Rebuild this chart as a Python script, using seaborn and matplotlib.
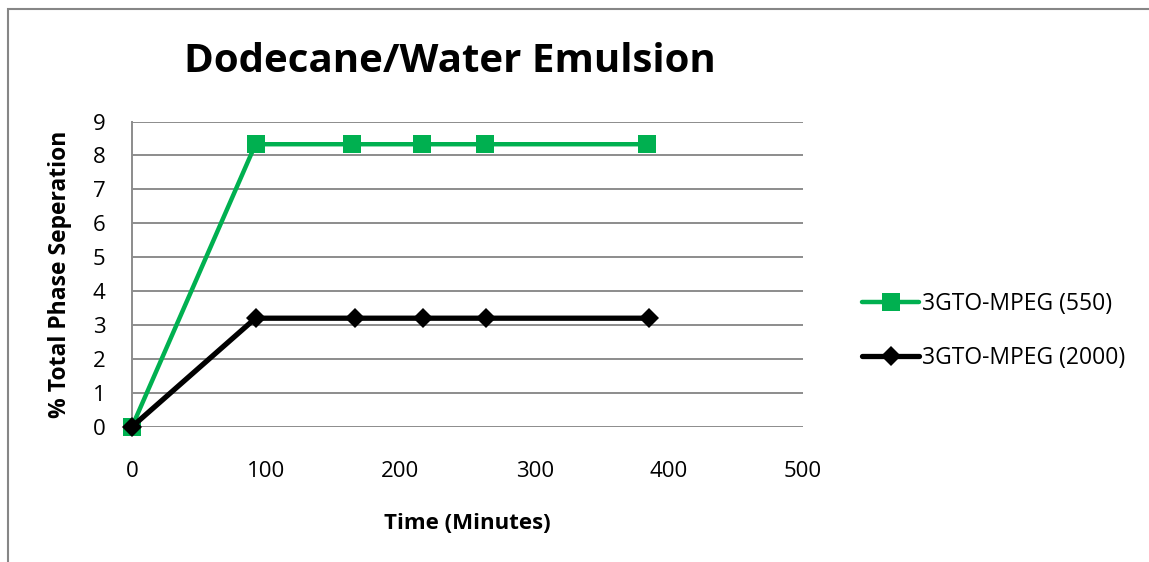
import matplotlib
matplotlib.use("Agg")
import matplotlib.pyplot as plt
from matplotlib.patches import Rectangle
import seaborn as sns
import pandas as pd

# Phase separation over time for two surfactants
time_550 = [0, 92, 164, 216, 263, 384]
sep_550 = [0, 8.33, 8.33, 8.33, 8.33, 8.33]
time_2000 = [0, 92, 166, 217, 264, 385]
sep_2000 = [0, 3.2, 3.2, 3.2, 3.2, 3.2]
label_550 = "3GTO-MPEG (550)"
label_2000 = "3GTO-MPEG (2000)"
x_ticks = [0, 100, 200, 300, 400, 500]
y_ticks = list(range(0, 10))

sns.set_theme(style="white")
plt.rcParams["font.family"] = ["Open Sans", "DejaVu Sans"]
plt.rcParams["text.color"] = "black"
plt.rcParams["axes.labelcolor"] = "black"
plt.rcParams["xtick.color"] = "black"
plt.rcParams["ytick.color"] = "black"

fig = plt.figure(figsize=(11.49, 5.62), dpi=100)
ax = fig.add_axes([0.1149, 0.2407, 0.699 - 0.1149, 0.7838 - 0.2407])

# chart-area frame
fig.patches.append(Rectangle((8 / 1149, -0.1), 1.2, 1 - 9 / 562 + 0.1,
                             transform=fig.transFigure, fill=False,
                             edgecolor="#868686", linewidth=1.5))

df550 = pd.DataFrame({"t": time_550, "p": sep_550})
df2000 = pd.DataFrame({"t": time_2000, "p": sep_2000})

sns.lineplot(data=df550, x="t", y="p", ax=ax, color="#00B050", linewidth=3.2,
             marker="s", markersize=13, markeredgewidth=0, label=label_550,
             clip_on=False, zorder=3)
sns.lineplot(data=df2000, x="t", y="p", ax=ax, color="#000000", linewidth=3.8,
             marker="D", markersize=10, markeredgewidth=0, label=label_2000,
             clip_on=False, zorder=4)

ax.set_xlim(0, 500)
ax.set_ylim(0, 9)
ax.set_xticks(x_ticks)
ax.set_yticks(y_ticks)
ax.grid(axis="y", color="#8c8c8c", linewidth=1.4)
ax.grid(axis="x", visible=False)
for side in ["top", "right", "bottom"]:
    ax.spines[side].set_visible(False)
ax.spines["left"].set_color("#8c8c8c")
ax.spines["left"].set_linewidth(1.4)
ax.tick_params(axis="both", length=0, labelsize=16, colors="#000000")
ax.tick_params(axis="x", pad=25)
ax.tick_params(axis="y", pad=19)

ax.set_xlabel("Time (Minutes)", fontsize=16, fontweight="bold", labelpad=22)
ax.set_ylabel("% Total Phase Seperation", fontsize=16.5, fontweight="bold", labelpad=15)

fig.text(450 / 1149, 1 - 62 / 562, "Dodecane/Water Emulsion", ha="center",
         va="center", fontsize=29, fontweight="bold", color="black")

ax.legend(loc="center left", bbox_to_anchor=(862 / 1149, 1 - 331 / 562),
          bbox_transform=fig.transFigure, frameon=False, fontsize=16.5,
          handlelength=2.5, handletextpad=0.1, labelspacing=1.3,
          borderpad=0, borderaxespad=0)

fig.savefig("out.png", dpi=100, facecolor="white")
